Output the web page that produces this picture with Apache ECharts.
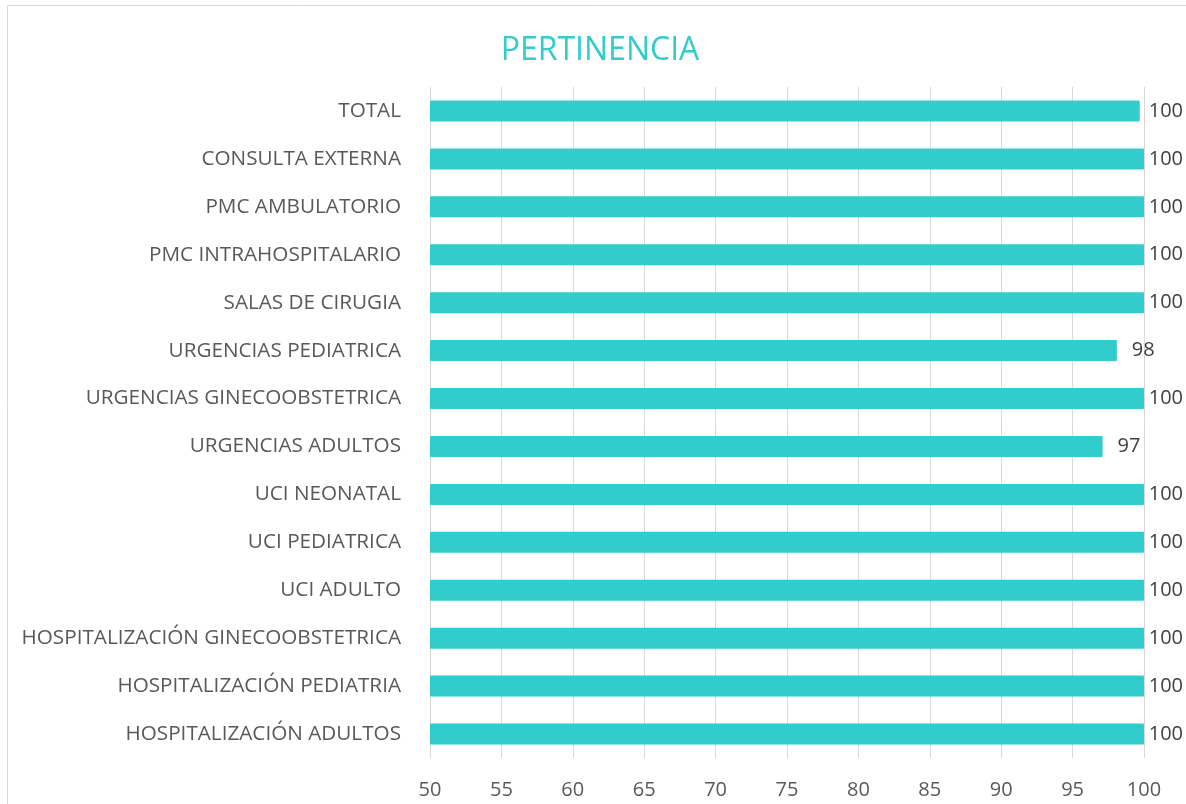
<!DOCTYPE html>
<html>
<head>
<meta charset="utf-8">
<script src="https://cdn.jsdelivr.net/npm/echarts@6/dist/echarts.min.js"></script>
<style>
    html, body { margin: 0; padding: 0; background: #fff; }
    #chart { width: 1186px; height: 804px; }
</style>
</head>
<body>
<div id="chart"></div>
<script>
// categorias de arriba hacia abajo
var categories = ['TOTAL', 'CONSULTA EXTERNA', 'PMC AMBULATORIO', 'PMC INTRAHOSPITALARIO',
    'SALAS DE CIRUGIA', 'URGENCIAS PEDIATRICA', 'URGENCIAS GINECOOBSTETRICA', 'URGENCIAS ADULTOS',
    'UCI NEONATAL', 'UCI PEDIATRICA', 'UCI ADULTO', 'HOSPITALIZACIÓN GINECOOBSTETRICA',
    'HOSPITALIZACIÓN PEDIATRIA', 'HOSPITALIZACIÓN ADULTOS'];
// porcentaje de pertinencia
var values = [99.7, 100, 100, 100, 100, 98.1, 100, 97.1, 100, 100, 100, 100, 100, 100];
var xTicks = [50, 55, 60, 65, 70, 75, 80, 85, 90, 95, 100];

var teal = '#33cccc'
var font = 'Open Sans'
var myChart = echarts.init(document.getElementById('chart'))

var option = {
    animation: false,
    textStyle: { fontFamily: font },
    title: {
        text: 'PERTINENCIA',
        left: 600, textAlign: 'center',
        top: 35, padding: 0,
        textStyle: { color: teal, fontFamily: font, fontSize: 32, fontWeight: 'normal' }
    },
    graphic: [{
        type: 'rect',
        shape: { x: 7.5, y: 5.5, width: 1200, height: 900 },
        style: { fill: 'none', stroke: '#d9d9d9', lineWidth: 1 },
        silent: true
    }],
    grid: { left: 430, right: 42, top: 87, bottom: 46, containLabel: false },
    xAxis: {
        type: 'value',
        min: xTicks[0], max: xTicks[xTicks.length - 1], interval: 5,
        axisLine: { show: false },
        axisTick: { show: false },
        splitLine: { show: true, lineStyle: { color: '#d9d9d9', width: 1 } },
        axisLabel: { color: '#595959', fontSize: 20, fontFamily: font, margin: 22 }
    },
    yAxis: {
        type: 'category',
        data: categories,
        inverse: true,
        axisLine: { show: true, lineStyle: { color: '#d9d9d9' } },
        axisTick: { show: false },
        axisLabel: { color: '#595959', fontSize: 20.7, fontFamily: font, margin: 29 }
    },
    series: [{
        type: 'bar',
        data: values,
        barWidth: 21,
        itemStyle: { color: teal, borderRadius: 1 },
        label: {
            show: true,
            position: 'right',
            distance: 15,
            color: '#404040',
            fontSize: 20,
            fontFamily: font,
            formatter: function (p) { return Math.round(p.value) }
        },
        // como en excel, la etiqueta no se sale del area del grafico
        labelLayout: function (params) {
            var r = params.labelRect
            var maxRight = 1183
            var x = r.x
            if (r.x + r.width > maxRight) x = maxRight - r.width
            return { x: x, y: r.y + r.height / 2, align: 'left', verticalAlign: 'middle' }
        }
    }]
};

myChart.setOption(option)
</script>
</body>
</html>
